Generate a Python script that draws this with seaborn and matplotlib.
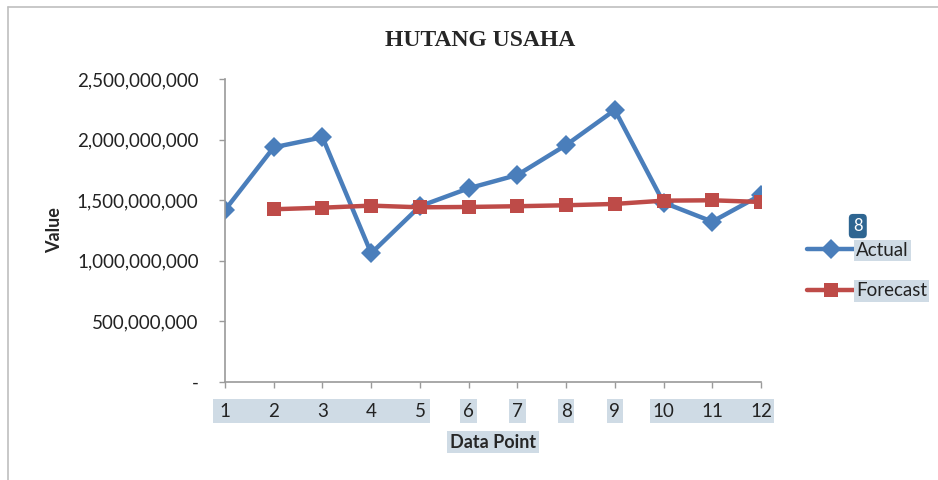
import numpy as np
import pandas as pd
import matplotlib
matplotlib.use("Agg")
import matplotlib.pyplot as plt
from matplotlib.patches import Rectangle
from matplotlib.lines import Line2D
from matplotlib.ticker import FuncFormatter
import seaborn as sns

# data
data_points = [1, 2, 3, 4, 5, 6, 7, 8, 9, 10, 11, 12]
actual = [1.419e9, 1.936e9, 2.019e9, 1.062e9, 1.450e9, 1.598e9,
          1.708e9, 1.955e9, 2.244e9, 1.480e9, 1.323e9, 1.543e9]
forecast = [np.nan, 1.425e9, 1.438e9, 1.455e9, 1.441e9, 1.444e9,
            1.450e9, 1.458e9, 1.469e9, 1.496e9, 1.499e9, 1.485e9]
y_ticks = [0, 500_000_000, 1_000_000_000, 1_500_000_000, 2_000_000_000, 2_500_000_000]

df = pd.DataFrame({"Data Point": data_points, "Actual": actual, "Forecast": forecast})
long_df = df.melt(id_vars="Data Point", var_name="Series", value_name="Value").dropna()

sns.set_style("white")
plt.rcParams["font.family"] = ["Lato", "DejaVu Sans"]

highlight = "#CFDBE5"
fig = plt.figure(figsize=(9.38, 4.8), dpi=100)
ax = fig.add_axes([0.2399, 0.2042, 0.5714, 0.6313])

sns.lineplot(data=long_df, x="Data Point", y="Value", hue="Series", style="Series",
             palette={"Actual": "#4A7EBB", "Forecast": "#BE4B48"},
             markers={"Actual": "D", "Forecast": "s"}, dashes=False,
             linewidth=3.2, markersize=10.5, markeredgewidth=0, ax=ax)

ax.set_xlim(1, 12)
ax.set_ylim(0, 2.5e9)
ax.set_xticks(data_points)
ax.set_yticks(y_ticks)
ax.yaxis.set_major_formatter(FuncFormatter(lambda v, p: "-" if v == 0 else f"{int(v):,}"))

for side in ["top", "right"]:
    ax.spines[side].set_visible(False)
for side in ["left", "bottom"]:
    ax.spines[side].set_color("#9A9A9A")
    ax.spines[side].set_linewidth(1.2)

ax.tick_params(axis="y", direction="out", length=4, width=1, color="#9A9A9A",
               pad=15, labelsize=13.5, labelcolor="#222222", left=True)
ax.tick_params(axis="x", direction="out", length=4, width=1, color="#9A9A9A",
               pad=11, labelsize=13.5, labelcolor="#222222", bottom=True)

ax.set_xlabel("Data Point", fontsize=13, fontweight="bold", labelpad=10,
              bbox=dict(facecolor=highlight, edgecolor="none", pad=2))
ax.set_ylabel("Value", fontsize=13, fontweight="bold", labelpad=10)
fig.text(0.512, 0.915, "HUTANG USAHA", ha="center", va="center",
         fontsize=17, fontweight="bold", family="Liberation Serif")

# selection highlights behind tick labels
trans = ax.get_xaxis_transform()
for x0, x1 in [(0.75, 5.2), (5.83, 6.17), (6.83, 7.17), (7.83, 8.17), (8.83, 9.17), (9.73, 12.27)]:
    ax.add_patch(Rectangle((x0, -0.135), x1 - x0, 0.078, transform=trans,
                           facecolor=highlight, edgecolor="none", clip_on=False, zorder=0))

# legend outside the plot area
handles, labels = ax.get_legend_handles_labels()
leg = ax.legend(handles, labels, loc="center left", bbox_to_anchor=(0.842, 0.436),
                bbox_transform=fig.transFigure, frameon=False, fontsize=13.5,
                handlelength=2.6, handletextpad=0.05, labelspacing=1.25)
for t in leg.get_texts():
    t.set_bbox(dict(facecolor=highlight, edgecolor="none", pad=1.5))
    t.set_color("#222222")

fig.text(0.9145, 0.529, "8", ha="center", va="center", color="white", fontsize=12,
         bbox=dict(boxstyle="round,pad=0.25", facecolor="#2E6591", edgecolor="none"))

# chart border
fig.add_artist(Line2D([0.0085, 0.0085], [0.0, 0.985], color="#BFBFBF", lw=1.2))
fig.add_artist(Line2D([0.0085, 1.0], [0.985, 0.985], color="#BFBFBF", lw=1.2))

fig.savefig("out.png", dpi=100)
